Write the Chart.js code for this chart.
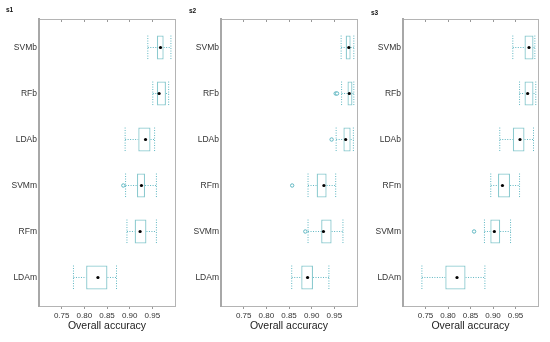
<!DOCTYPE html>
<html>
<head>
<meta charset="utf-8">
<script src="https://cdn.jsdelivr.net/npm/chart.js@4.4.0/dist/chart.umd.min.js"></script>
<style>
    body { margin: 0; background: #fff; }
    #wrap { position: relative; width: 550px; height: 342px; overflow: hidden; }
    .panel { position: absolute; top: 0; }
    .tag { position: absolute; font: bold 6.5px "Liberation Sans", Arial, sans-serif; color: #111; }
</style>
</head>
<body>
<div id="wrap">
    <canvas id="c1" class="panel" width="182" height="342" style="left:0px"></canvas>
    <canvas id="c2" class="panel" width="182" height="342" style="left:182px"></canvas>
    <canvas id="c3" class="panel" width="182" height="342" style="left:364px"></canvas>
    <span class="tag" style="left:6px;top:6px">s1</span>
    <span class="tag" style="left:189px;top:7px">s2</span>
    <span class="tag" style="left:371px;top:9px">s3</span>
</div>
<script>
// ============================================================
// Data
// ============================================================
const xTicks = [0.75, 0.80, 0.85, 0.90, 0.95];

// s1
const s1Labels = ['SVMb', 'RFb', 'LDAb', 'SVMm', 'RFm', 'LDAm'];
const s1Low    = [0.940, 0.951, 0.890, 0.891, 0.894, 0.776];
const s1Q1     = [0.960, 0.960, 0.919, 0.916, 0.911, 0.804];
const s1Median = [0.968, 0.965, 0.935, 0.926, 0.923, 0.830];
const s1Q3     = [0.975, 0.980, 0.946, 0.934, 0.937, 0.851];
const s1High   = [0.991, 0.986, 0.955, 0.959, 0.959, 0.871];
const s1Out    = [[], [], [], [0.886], [], []];

// s2
const s2Labels = ['SVMb', 'RFb', 'LDAb', 'RFm', 'SVMm', 'LDAm'];
const s2Low    = [0.965, 0.966, 0.954, 0.892, 0.892, 0.856];
const s2Q1     = [0.975, 0.979, 0.970, 0.911, 0.921, 0.877];
const s2Median = [0.982, 0.983, 0.975, 0.927, 0.926, 0.891];
const s2Q3     = [0.986, 0.990, 0.986, 0.933, 0.944, 0.903];
const s2High   = [0.993, 0.993, 0.992, 0.953, 0.969, 0.938];
const s2Out    = [[], [0.953, 0.956], [0.944], [0.857], [0.886], []];

// s3
const s3Labels = ['SVMb', 'RFb', 'LDAb', 'RFm', 'SVMm', 'LDAm'];
const s3Low    = [0.944, 0.959, 0.915, 0.895, 0.881, 0.742];
const s3Q1     = [0.970, 0.970, 0.944, 0.911, 0.894, 0.794];
const s3Median = [0.980, 0.977, 0.960, 0.921, 0.903, 0.820];
const s3Q3     = [0.990, 0.990, 0.970, 0.938, 0.916, 0.839];
const s3High   = [0.993, 0.995, 0.990, 0.959, 0.939, 0.882];
const s3Out    = [[], [], [], [], [0.858], []];

// ============================================================
// Box plot panel built from floating bars + dotted lines
// ============================================================
const BOX = '#8ccacf';
const WHISK = '#5db6c1';
const FRAME = '#b4b4b4';
const FONT = "'Liberation Sans', Arial, sans-serif";
const CAP = 0.26; // half height of whisker caps (category units)

function boxPanel(id, labels, low, q1, med, q3, high, out, padRight) {
    const gap = { x: null, y: null };
    const whiskers = [];
    const caps = [];
    const outliers = [];
    labels.forEach((_, i) => {
        whiskers.push({ x: low[i], y: i }, { x: q1[i], y: i }, gap,
                      { x: q3[i], y: i }, { x: high[i], y: i }, gap);
        [low[i], high[i]].forEach(v => caps.push({ x: v, y: i - CAP }, { x: v, y: i + CAP }, gap));
        out[i].forEach(v => outliers.push({ x: v, y: i }));
    });

    new Chart(document.getElementById(id), {
        type: 'bar',
        data: {
            datasets: [
                {
                    type: 'scatter',
                    data: med.map((v, i) => ({ x: v, y: i })),
                    pointRadius: 1.6,
                    pointBackgroundColor: '#000',
                    pointBorderWidth: 0,
                },
                {
                    type: 'scatter',
                    data: outliers,
                    pointRadius: 1.7,
                    pointBackgroundColor: '#fff',
                    pointBorderColor: WHISK,
                    pointBorderWidth: 1,
                },
                {
                    type: 'bar',
                    indexAxis: 'y',
                    data: q1.map((v, i) => ({ x: [v, q3[i]], y: i })),
                    backgroundColor: '#fff',
                    borderColor: BOX,
                    borderWidth: 1.3,
                    borderSkipped: false,
                    categoryPercentage: 0.52,
                    barPercentage: 1,
                },
                {
                    type: 'line',
                    data: whiskers,
                    borderColor: WHISK,
                    borderWidth: 1,
                    borderDash: [1, 1.5],
                    pointRadius: 0,
                    spanGaps: false,
                },
                {
                    type: 'line',
                    data: caps,
                    borderColor: WHISK,
                    borderWidth: 1,
                    borderDash: [1, 1.5],
                    pointRadius: 0,
                    spanGaps: false,
                },
            ]
        },
        options: {
            responsive: false,
            animation: false,
            layout: { padding: { top: 19, right: padRight, bottom: 0, left: 0 } },
            plugins: { legend: { display: false }, tooltip: { enabled: false } },
            scales: {
                x: {
                    type: 'linear',
                    position: 'bottom',
                    min: 0.70,
                    max: 1.00,
                    offset: false,
                    afterBuildTicks: s => { s.ticks = xTicks.map(v => ({ value: v })); },
                    afterFit: s => { s.height = 36; },
                    ticks: {
                        callback: v => v.toFixed(2),
                        color: '#333',
                        padding: 2,
                        maxRotation: 0,
                        font: { family: FONT, size: 8 },
                    },
                    grid: { drawOnChartArea: false, offset: false, tickLength: 3, color: '#999' },
                    border: { color: FRAME, width: 1 },
                    title: {
                        display: true,
                        text: 'Overall accuracy',
                        color: '#222',
                        padding: { top: 0, bottom: 10 },
                        font: { family: FONT, size: 10.5 },
                    },
                },
                x2: {
                    // top frame, tick marks pointing into the plot
                    type: 'linear',
                    position: 'top',
                    min: 0.70,
                    max: 1.00,
                    offset: false,
                    afterBuildTicks: s => { s.ticks = xTicks.map(v => ({ value: v })); },
                    afterFit: s => { s.height = 0; },
                    ticks: { display: false },
                    grid: { drawOnChartArea: false, offset: false, tickLength: -3, color: '#999' },
                    border: { color: FRAME, width: 1 },
                },
                y: {
                    type: 'linear',
                    position: 'left',
                    reverse: true,
                    min: -0.62,
                    max: 5.62,
                    offset: false,
                    afterBuildTicks: s => { s.ticks = labels.map((_, i) => ({ value: i })); },
                    afterFit: s => { s.width = 39; },
                    ticks: {
                        callback: v => labels[v],
                        color: '#333',
                        padding: 2,
                        font: { family: FONT, size: 8.5 },
                    },
                    grid: { display: false, drawTicks: false, tickLength: 0, offset: false },
                    border: { color: '#a8a8a8', width: 2 },
                },
                y2: {
                    type: 'linear',
                    position: 'right',
                    offset: false,
                    afterFit: s => { s.width = 0; },
                    ticks: { display: false },
                    grid: { display: false, drawTicks: false, tickLength: 0 },
                    border: { color: FRAME, width: 1 },
                },
            }
        }
    });
}

boxPanel('c1', s1Labels, s1Low, s1Q1, s1Median, s1Q3, s1High, s1Out, 7);
boxPanel('c2', s2Labels, s2Low, s2Q1, s2Median, s2Q3, s2High, s2Out, 7);
boxPanel('c3', s3Labels, s3Low, s3Q1, s3Median, s3Q3, s3High, s3Out, 8);
</script>
</body>
</html>
